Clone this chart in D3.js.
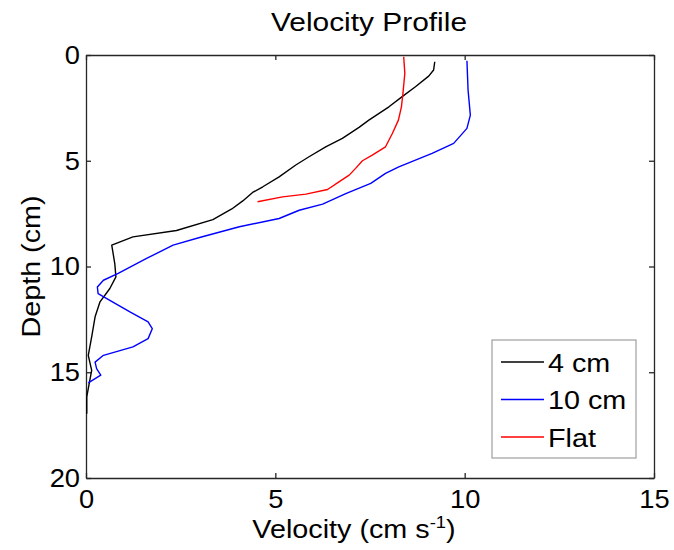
<!DOCTYPE html>
<html>
<head>
<meta charset="utf-8">
<script src="https://cdn.jsdelivr.net/npm/d3@7"></script>
<style>
body { margin: 0; background: #fff; }
svg text { font-family: Arial, 'Liberation Sans', Helvetica, sans-serif; fill: #000; }
</style>
</head>
<body>
<svg id="chart" width="674" height="550"></svg>
<script>
'use strict';

// [velocity, depth] pairs
var series4cm = [
    [9.21, 0.32], [9.18, 0.71], [9.05, 1.0], [8.70, 1.5], [8.35, 1.97], [8.0, 2.45],
    [7.47, 3.08], [7.21, 3.42], [6.77, 3.94], [6.33, 4.34], [5.89, 4.81], [5.54, 5.2],
    [5.1, 5.76], [4.67, 6.23], [4.4, 6.5], [4.14, 6.9], [3.85, 7.28], [3.35, 7.78],
    [2.39, 8.3], [1.24, 8.6], [0.68, 8.99], [0.76, 9.86], [0.79, 10.49], [0.63, 11.04],
    [0.37, 11.67], [0.24, 12.38], [0.15, 13.33], [0.06, 14.2], [0.15, 14.91], [0.1, 15.38],
    [0.02, 16.17], [0.02, 16.96]
];
var series10cm = [
    [10.06, 0.27], [10.09, 1.66], [10.15, 2.84], [10.06, 3.47], [9.71, 4.18], [9.14, 4.65],
    [8.26, 5.29], [7.91, 5.6], [7.52, 6.07], [6.86, 6.55], [6.25, 7.05], [5.63, 7.34],
    [5.1, 7.73], [4.05, 8.12], [3.0, 8.63], [2.3, 8.99], [1.6, 9.62], [0.85, 10.33],
    [0.46, 10.65], [0.3, 10.97], [0.32, 11.28], [0.63, 11.6], [1.16, 12.15], [1.64, 12.62],
    [1.75, 12.94], [1.64, 13.41], [1.24, 13.8], [0.46, 14.2], [0.24, 14.52], [0.28, 14.83],
    [0.39, 15.14], [0.06, 15.5]
];
var seriesFlat = [
    [8.39, 0.08], [8.42, 0.87], [8.37, 1.81], [8.33, 2.45], [8.25, 3.08], [8.09, 3.71],
    [7.91, 4.34], [7.56, 4.73], [7.3, 5.0], [7.12, 5.36], [6.95, 5.68], [6.68, 6.0],
    [6.38, 6.36], [5.81, 6.58], [5.19, 6.71], [4.53, 6.94]
];
var seriesNames = ['4 cm', '10 cm', 'Flat'];
var seriesColors = ['#000000', '#0000ff', '#ff0000'];
var xTicks = [0, 5, 10, 15];
var yTicks = [0, 5, 10, 15, 20];

var MARGIN = { TOP: 55, RIGHT: 20, BOTTOM: 72, LEFT: 86 };
var WIDTH = 674 - MARGIN.LEFT - MARGIN.RIGHT;
var HEIGHT = 550 - MARGIN.TOP - MARGIN.BOTTOM;
var TICK = 5;
var STRETCH = 1.15;      // the source figure's text is wider than plain Arial
var TICK_STRETCH = 1.05;

var svg = d3.select('#chart');
var g = svg.append('g')
    .attr('transform', 'translate(' + MARGIN.LEFT + ',' + MARGIN.TOP + ')');

var x = d3.scaleLinear().domain([0, 15]).range([0, WIDTH]);
var y = d3.scaleLinear().domain([0, 20]).range([0, HEIGHT]);

// frame with inward ticks (top/right without labels)
g.append('g')
    .attr('transform', 'translate(0,' + HEIGHT + ')')
    .call(d3.axisBottom(x).tickValues(xTicks).tickSizeInner(-TICK).tickSizeOuter(0).tickPadding(12))
    .call(styleAxis);
g.append('g')
    .call(d3.axisTop(x).tickValues(xTicks).tickSizeInner(-TICK).tickSizeOuter(0).tickFormat(''))
    .call(styleAxis);
g.append('g')
    .call(d3.axisLeft(y).tickValues(yTicks).tickSizeInner(-TICK).tickSizeOuter(0).tickPadding(6))
    .call(styleAxis)
    .selectAll('.tick text')
    .attr('x', -6 / TICK_STRETCH);
g.append('g')
    .attr('transform', 'translate(' + WIDTH + ',0)')
    .call(d3.axisRight(y).tickValues(yTicks).tickSizeInner(-TICK).tickSizeOuter(0).tickFormat(''))
    .call(styleAxis);

function styleAxis(sel) {
    sel.select('.domain').attr('stroke', '#262626').attr('stroke-width', 1.3);
    sel.selectAll('.tick line').attr('stroke', '#262626').attr('stroke-width', 1.3);
    sel.selectAll('.tick text')
        .style('font-family', "Arial, 'Liberation Sans', sans-serif")
        .style('font-size', '26px')
        .attr('fill', '#000')
        .attr('transform', 'scale(' + TICK_STRETCH + ',1)');
}

var line = d3.line()
    .x(function(d) { return x(d[0]); })
    .y(function(d) { return y(d[1]); });

[series4cm, series10cm, seriesFlat].forEach(function(s, i) {
    g.append('path')
        .datum(s)
        .attr('fill', 'none')
        .attr('stroke', seriesColors[i])
        .attr('stroke-width', 1.4)
        .attr('stroke-linejoin', 'round')
        .attr('d', line);
});

// title and labels
svg.append('text')
    .attr('transform', 'translate(369,31) scale(' + STRETCH + ',1)')
    .attr('text-anchor', 'middle')
    .style('font-size', '26px')
    .text('Velocity Profile');

svg.append('text')
    .attr('transform', 'translate(40,' + (MARGIN.TOP + HEIGHT / 2) + ') rotate(-90) scale(' + STRETCH + ',1)')
    .attr('text-anchor', 'middle')
    .style('font-size', '25px')
    .text('Depth (cm)');

var xl = svg.append('text')
    .attr('transform', 'translate(354,538) scale(' + STRETCH + ',1)')
    .attr('text-anchor', 'middle')
    .style('font-size', '25px');
xl.append('tspan').text('Velocity (cm s');
xl.append('tspan').attr('dy', -10).style('font-size', '16px').text('-1');
xl.append('tspan').attr('dy', 10).text(')');

// legend
var LEG = { X: 492 - MARGIN.LEFT, Y: 340 - MARGIN.TOP, W: 144, H: 118 };
var leg = g.append('g').attr('transform', 'translate(' + LEG.X + ',' + LEG.Y + ')');
leg.append('rect')
    .attr('width', LEG.W)
    .attr('height', LEG.H)
    .attr('fill', '#fff')
    .attr('stroke', '#8c8c8c')
    .attr('stroke-width', 1);

var items = leg.selectAll('g.item')
    .data(seriesNames)
    .enter()
    .append('g')
    .attr('class', 'item')
    .attr('transform', function(d, i) { return 'translate(0,' + (22 + i * 37.5) + ')'; });
items.append('line')
    .attr('x1', 9).attr('x2', 52)
    .attr('stroke', function(d, i) { return seriesColors[i]; })
    .attr('stroke-width', 1.3);
items.append('text')
    .attr('transform', 'translate(56,9.5) scale(' + STRETCH + ',1)')
    .style('font-size', '25px')
    .text(function(d) { return d; });
</script>
</body>
</html>
